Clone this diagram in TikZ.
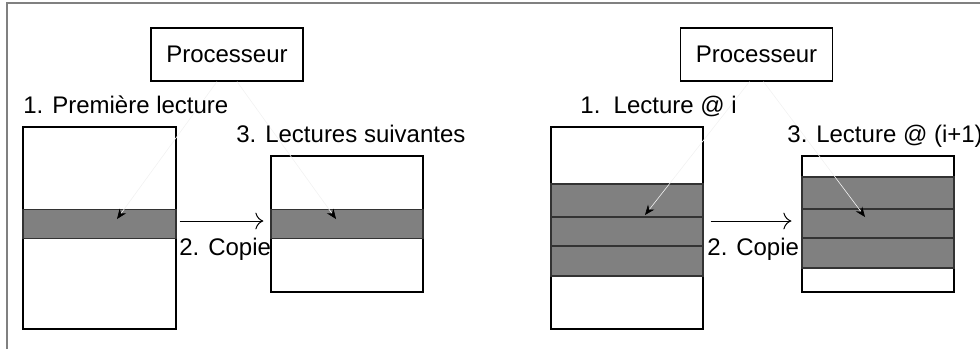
\documentclass[tikz,border=0pt]{standalone}
\usepackage{fontspec}
\setmainfont{Liberation Sans}
\usetikzlibrary{arrows.meta}
\tikzset{proc/.style = {draw, line width=.6pt, minimum width=76pt, minimum height=26.5pt, inner sep=0pt},
  mem/.style = {draw, line width=.6pt, inner sep=0pt, minimum width=76pt},
  band/.style = {draw=black!80, fill=gray, line width=.6pt, inner sep=0pt, minimum width=76pt},
  lbl/.style = {inner sep=0pt, anchor=base west},
  probe/.style = {gray!10, line width=.3pt, -{Stealth[black, length=5pt, width=4pt]}},
  copyarrow/.style = {-{To[length=4pt]}, line width=.5pt}}

\begin{document}
\begin{tikzpicture}[x=.5pt, y=-.5pt, font=\fontsize{12}{14}\selectfont]
        \useasboundingbox (0,0) rectangle (980,349);
        \draw[gray, line width=1pt] (7,349) -- (7,3) -- (980,3);
        \node[proc] (procA) at (227,54.5) {Processeur};
        \node[mem, minimum width=76.5pt, minimum height=101pt] (memA) at (99.5,228) {};
        \node[mem, minimum height=68pt] (memB) at (347,224) {};
        \node[band, minimum width=76.5pt, minimum height=14.75pt] (bandA) at (99.5,224) {};
        \node[band, minimum height=14.75pt] (bandB) at (347,224) {};
        \coordinate (tipA) at (117,219);
        \coordinate (tipB) at (336,219);
        \draw[probe] ([xshift=-5pt]procA.south) -- (tipA);
        \draw[probe] ([xshift=5pt]procA.south) -- (tipB);
        \draw[copyarrow] ([xshift=1.5pt, yshift=1.5pt]bandA.east) -- ([xshift=-3.5pt, yshift=1.5pt]bandB.west);
        \node[lbl] (readA) at (23,113) {1. Première lecture};
        \node[lbl] (copyA) at (179,255) {2. Copie};
        \node[lbl] (nextA) at (236,142) {3. Lectures suivantes};
        \begin{scope}[xshift=265pt]
          \node[proc] (procC) at (226.5,54.5) {Processeur};
          \node[mem, minimum height=101pt] (memC) at (97,228) {};
          \node[band, minimum height=16.5pt] (bandC1) at (97,200.5) {};
          \node[band, minimum height=14.5pt] (bandC2) at (97,231.5) {};
          \node[band, minimum height=15pt] (bandC3) at (97,261) {};
          \node[mem, minimum height=68pt] (memD) at (348,224) {};
          \node[band, minimum height=16pt] (bandD1) at (348,193) {};
          \node[band, minimum height=14.5pt] (bandD2) at (348,223.5) {};
          \node[band, minimum height=15pt] (bandD3) at (348,253) {};
          \coordinate (tipC) at (115,215);
          \coordinate (tipD) at (335,217);
          \draw[probe] ([xshift=-3.5pt]procC.south) -- (tipC);
          \draw[probe] ([xshift=3.5pt]procC.south) -- (tipD);
          \draw[copyarrow] ([xshift=3.5pt, yshift=3.5pt]memC.east) -- ([xshift=-5pt, yshift=1.5pt]memD.west);
          \node[lbl] (readC) at (50,113) {1.\ \ Lecture @ i};
          \node[lbl] (copyC) at (177,255) {2. Copie};
          \node[lbl] (nextC) at (257,142) {3. Lecture @ (i+1)};
        \end{scope}
      \end{tikzpicture}
\end{document}
